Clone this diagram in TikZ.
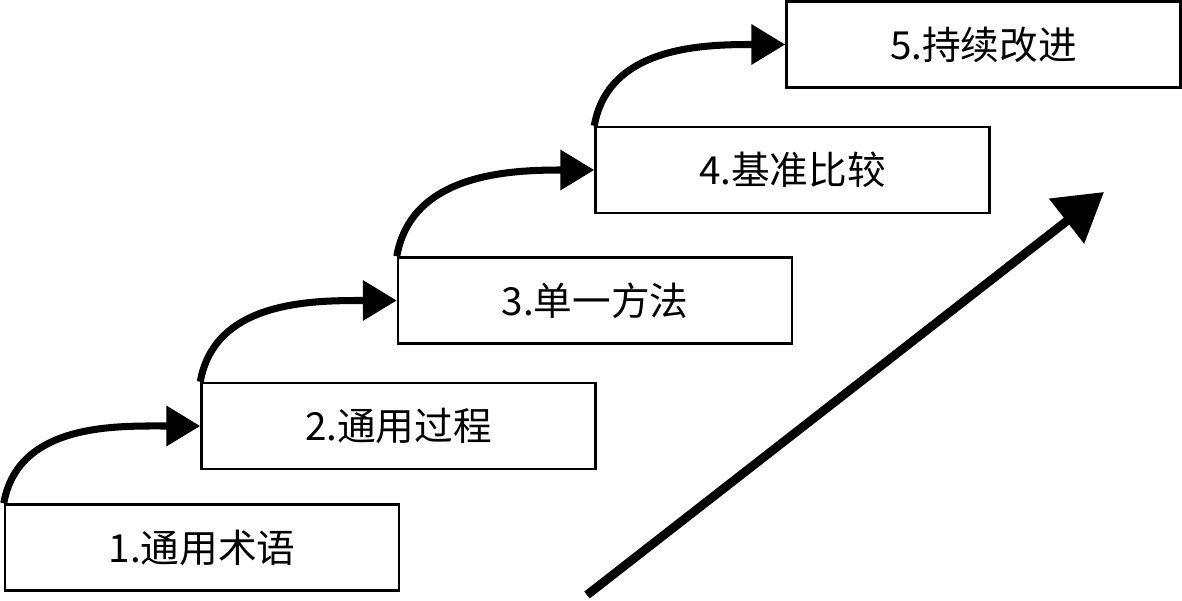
\documentclass[tikz,border=0pt]{standalone}
\usepackage{fontspec}
\setmainfont{Noto Sans CJK SC}
\usetikzlibrary{arrows.meta,positioning}

\begin{document}
\begin{tikzpicture}[>=Latex,
  stage/.style={draw, line width=1.4pt, minimum width=7.88cm, minimum height=1.72cm, inner sep=0pt, font=\fontsize{22}{26}\selectfont},
  climb/.style={-{Triangle[length=0.68cm,width=0.78cm]}, line width=4pt},
  trend/.style={-{Triangle[length=0.95cm,width=1.1cm]}, line width=5pt}]
  \useasboundingbox (0,0) rectangle (23.64,12);
  % the five stages
  \node[stage] (s1) at (4.04,1.05) {1.通用术语};
  \node[stage] (s2) at (7.97,3.48) {2.通用过程};
  \node[stage] (s3) at (11.90,5.99) {3.单一方法};
  \node[stage] (s4) at (15.85,8.60) {4.基准比较};
  \node[stage] (s5) at (19.67,11.11) {5.持续改进};
  % steps up
  \draw[climb] (s1.north west) to[out=80,in=180] (s2.west);
  \draw[climb] (s2.north west) to[out=80,in=180] (s3.west);
  \draw[climb] (s3.north west) to[out=80,in=180] (s4.west);
  \draw[climb] (s4.north west) to[out=80,in=180] (s5.west);
  % overall trend
  \coordinate (T0) at (11.74,0.1);
  \coordinate (T1) at (22.08,8.16);
  \draw[trend] (T0) -- (T1);
\end{tikzpicture}
\end{document}
